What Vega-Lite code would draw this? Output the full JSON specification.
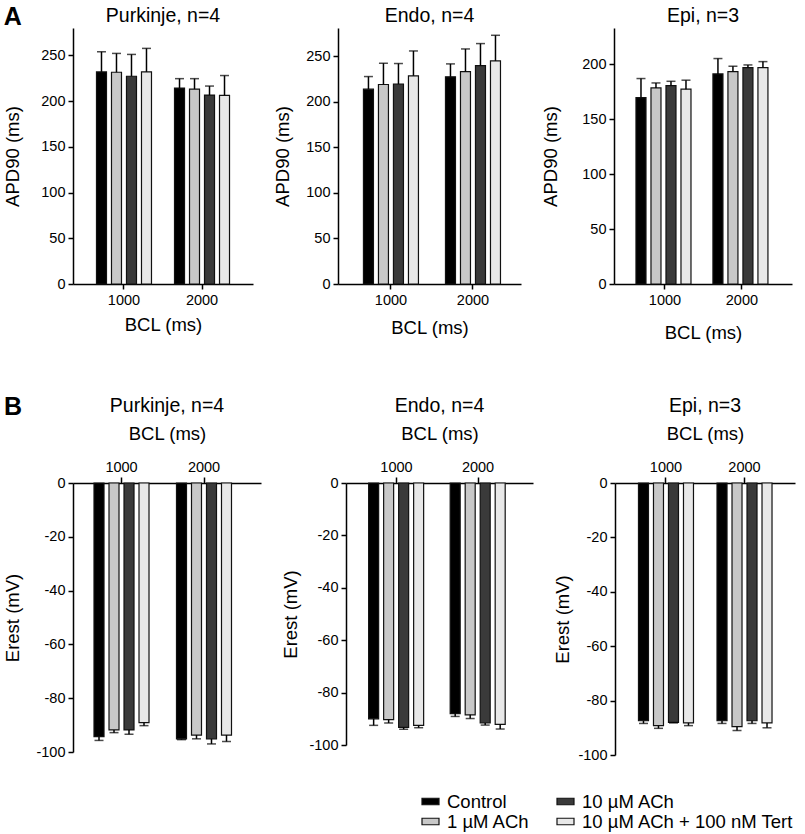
{
  "$schema": "https://vega.github.io/schema/vega-lite/v6.json",
  "background": "white",
  "padding": {"left": 3, "top": 4, "right": 5, "bottom": 5},
  "datasets": {
    "apd": [
      {"panel": "Purkinje", "bcl": "1000", "cond": "Control", "mean": 232, "err": 254},
      {"panel": "Purkinje", "bcl": "1000", "cond": "1 µM ACh", "mean": 231.6, "err": 252.2},
      {"panel": "Purkinje", "bcl": "1000", "cond": "10 µM ACh", "mean": 227.2, "err": 251.1},
      {"panel": "Purkinje", "bcl": "1000", "cond": "10 µM ACh + 100 nM Tert", "mean": 232, "err": 257.7},
      {"panel": "Purkinje", "bcl": "2000", "cond": "Control", "mean": 214.3, "err": 224.6},
      {"panel": "Purkinje", "bcl": "2000", "cond": "1 µM ACh", "mean": 213.2, "err": 224.6},
      {"panel": "Purkinje", "bcl": "2000", "cond": "10 µM ACh", "mean": 206.6, "err": 216.5},
      {"panel": "Purkinje", "bcl": "2000", "cond": "10 µM ACh + 100 nM Tert", "mean": 206.3, "err": 228},
      {"panel": "Endo", "bcl": "1000", "cond": "Control", "mean": 213.9, "err": 227.7},
      {"panel": "Endo", "bcl": "1000", "cond": "1 µM ACh", "mean": 219, "err": 242.3},
      {"panel": "Endo", "bcl": "1000", "cond": "10 µM ACh", "mean": 219.3, "err": 242},
      {"panel": "Endo", "bcl": "1000", "cond": "10 µM ACh + 100 nM Tert", "mean": 228.5, "err": 255.8},
      {"panel": "Endo", "bcl": "2000", "cond": "Control", "mean": 227.4, "err": 241.6},
      {"panel": "Endo", "bcl": "2000", "cond": "1 µM ACh", "mean": 233.2, "err": 258},
      {"panel": "Endo", "bcl": "2000", "cond": "10 µM ACh", "mean": 239.8, "err": 263.9},
      {"panel": "Endo", "bcl": "2000", "cond": "10 µM ACh + 100 nM Tert", "mean": 244.9, "err": 273},
      {"panel": "Epi", "bcl": "1000", "cond": "Control", "mean": 169.7, "err": 187},
      {"panel": "Epi", "bcl": "1000", "cond": "1 µM ACh", "mean": 178.5, "err": 183},
      {"panel": "Epi", "bcl": "1000", "cond": "10 µM ACh", "mean": 180.6, "err": 184.5},
      {"panel": "Epi", "bcl": "1000", "cond": "10 µM ACh + 100 nM Tert", "mean": 177.3, "err": 185.5},
      {"panel": "Epi", "bcl": "2000", "cond": "Control", "mean": 191.2, "err": 205.2},
      {"panel": "Epi", "bcl": "2000", "cond": "1 µM ACh", "mean": 193.3, "err": 198.2},
      {"panel": "Epi", "bcl": "2000", "cond": "10 µM ACh", "mean": 197, "err": 199.4},
      {"panel": "Epi", "bcl": "2000", "cond": "10 µM ACh + 100 nM Tert", "mean": 197, "err": 202.4}
    ],
    "erest": [
      {"panel": "Purkinje", "bcl": "1000", "cond": "Control", "mean": -94.3, "err": -95.7},
      {"panel": "Purkinje", "bcl": "1000", "cond": "1 µM ACh", "mean": -91.8, "err": -92.8},
      {"panel": "Purkinje", "bcl": "1000", "cond": "10 µM ACh", "mean": -91.8, "err": -93.4},
      {"panel": "Purkinje", "bcl": "1000", "cond": "10 µM ACh + 100 nM Tert", "mean": -89.1, "err": -90.2},
      {"panel": "Purkinje", "bcl": "2000", "cond": "Control", "mean": -95.1, "err": -95.4},
      {"panel": "Purkinje", "bcl": "2000", "cond": "1 µM ACh", "mean": -93.7, "err": -95.1},
      {"panel": "Purkinje", "bcl": "2000", "cond": "10 µM ACh", "mean": -95.1, "err": -97},
      {"panel": "Purkinje", "bcl": "2000", "cond": "10 µM ACh + 100 nM Tert", "mean": -93.7, "err": -96.1},
      {"panel": "Endo", "bcl": "1000", "cond": "Control", "mean": -90, "err": -92.5},
      {"panel": "Endo", "bcl": "1000", "cond": "1 µM ACh", "mean": -90.3, "err": -91.6},
      {"panel": "Endo", "bcl": "1000", "cond": "10 µM ACh", "mean": -93.25, "err": -94},
      {"panel": "Endo", "bcl": "1000", "cond": "10 µM ACh + 100 nM Tert", "mean": -92.5, "err": -93.4},
      {"panel": "Endo", "bcl": "2000", "cond": "Control", "mean": -88, "err": -89.1},
      {"panel": "Endo", "bcl": "2000", "cond": "1 µM ACh", "mean": -88.5, "err": -89.9},
      {"panel": "Endo", "bcl": "2000", "cond": "10 µM ACh", "mean": -91.6, "err": -92.4},
      {"panel": "Endo", "bcl": "2000", "cond": "10 µM ACh + 100 nM Tert", "mean": -92.1, "err": -93.9},
      {"panel": "Epi", "bcl": "1000", "cond": "Control", "mean": -87.4, "err": -88.4},
      {"panel": "Epi", "bcl": "1000", "cond": "1 µM ACh", "mean": -89.2, "err": -90.2},
      {"panel": "Epi", "bcl": "1000", "cond": "10 µM ACh", "mean": -88, "err": -88.2},
      {"panel": "Epi", "bcl": "1000", "cond": "10 µM ACh + 100 nM Tert", "mean": -88.2, "err": -89.2},
      {"panel": "Epi", "bcl": "2000", "cond": "Control", "mean": -87.4, "err": -88.4},
      {"panel": "Epi", "bcl": "2000", "cond": "1 µM ACh", "mean": -89.6, "err": -91},
      {"panel": "Epi", "bcl": "2000", "cond": "10 µM ACh", "mean": -87.4, "err": -88.4},
      {"panel": "Epi", "bcl": "2000", "cond": "10 µM ACh + 100 nM Tert", "mean": -88.2, "err": -90}
    ]
  },
  "spacing": 52,
  "vconcat": [
    {
      "title": {"text": "A", "anchor": "start", "fontSize": 25, "fontWeight": "bold", "offset": -24, "frame": "bounds"},
      "spacing": 20,
      "hconcat": [
        {
          "data": {"name": "apd"},
          "transform": [{"filter": "datum.panel === 'Purkinje'"}],
          "title": {"text": "Purkinje, n=4", "offset": 2},
          "width": 180, "height": 256,
          "encoding": {
            "x": {"field": "bcl", "type": "nominal", "scale": {"paddingInner": 0.295, "paddingOuter": 0.301, "align": 0.5}, "axis": {"title": "BCL (ms)", "labelAngle": 0, "labelPadding": 4, "titlePadding": 9}},
            "xOffset": {"field": "cond", "type": "nominal", "sort": ["Control", "1 µM ACh", "10 µM ACh", "10 µM ACh + 100 nM Tert"], "scale": {"paddingInner": 0.333, "paddingOuter": 0}},
            "y": {"field": "mean", "type": "quantitative", "scale": {"domain": [0, 280], "nice": false, "zero": true}, "axis": {"title": "APD90 (ms)", "values": [0, 50, 100, 150, 200, 250], "labelPadding": 3, "titlePadding": 18}}
          },
          "layer": [
            {"mark": {"type": "bar", "stroke": "#111111", "strokeWidth": 1.2},
             "encoding": {"color": {"field": "cond", "type": "nominal", "scale": {"domain": ["Control", "1 µM ACh", "10 µM ACh", "10 µM ACh + 100 nM Tert"], "range": ["#000000", "#c8c8c8", "#3a3a3a", "#e8e8e8"]}, "legend": {"orient": "none", "legendX": 348, "legendY": 764, "columns": 2, "title": null}}}},
            {"mark": {"type": "rule", "color": "black", "strokeWidth": 1.5}, "encoding": {"y2": {"field": "err"}}},
            {"mark": {"type": "tick", "color": "black", "thickness": 1.5, "size": 9}, "encoding": {"y": {"field": "err", "type": "quantitative", "axis": {"title": "APD90 (ms)", "values": [0, 50, 100, 150, 200, 250], "labelPadding": 3, "titlePadding": 18}}}}
          ]
        },
        {
          "data": {"name": "apd"},
          "transform": [{"filter": "datum.panel === 'Endo'"}],
          "title": {"text": "Endo, n=4", "offset": 2},
          "width": 183, "height": 256,
          "encoding": {
            "x": {"field": "bcl", "type": "nominal", "scale": {"paddingInner": 0.329, "paddingOuter": 0.28, "align": 0.554}, "axis": {"title": "BCL (ms)", "labelAngle": 0, "labelPadding": 4, "titlePadding": 12}},
            "xOffset": {"field": "cond", "type": "nominal", "sort": ["Control", "1 µM ACh", "10 µM ACh", "10 µM ACh + 100 nM Tert"], "scale": {"paddingInner": 0.333, "paddingOuter": 0}},
            "y": {"field": "mean", "type": "quantitative", "scale": {"domain": [0, 281], "nice": false, "zero": true}, "axis": {"title": "APD90 (ms)", "values": [0, 50, 100, 150, 200, 250], "labelPadding": 3, "titlePadding": 13}}
          },
          "layer": [
            {"mark": {"type": "bar", "stroke": "#111111", "strokeWidth": 1.2},
             "encoding": {"color": {"field": "cond", "type": "nominal", "scale": {"domain": ["Control", "1 µM ACh", "10 µM ACh", "10 µM ACh + 100 nM Tert"], "range": ["#000000", "#c8c8c8", "#3a3a3a", "#e8e8e8"]}, "legend": {"orient": "none", "legendX": 348, "legendY": 764, "columns": 2, "title": null}}}},
            {"mark": {"type": "rule", "color": "black", "strokeWidth": 1.5}, "encoding": {"y2": {"field": "err"}}},
            {"mark": {"type": "tick", "color": "black", "thickness": 1.5, "size": 9}, "encoding": {"y": {"field": "err", "type": "quantitative", "axis": {"title": "APD90 (ms)", "values": [0, 50, 100, 150, 200, 250], "labelPadding": 3, "titlePadding": 13}}}}
          ]
        },
        {
          "data": {"name": "apd"},
          "transform": [{"filter": "datum.panel === 'Epi'"}],
          "title": {"text": "Epi, n=3", "offset": 2},
          "width": 178, "height": 256,
          "encoding": {
            "x": {"field": "bcl", "type": "nominal", "scale": {"paddingInner": 0.247, "paddingOuter": 0.28, "align": 0.51}, "axis": {"title": "BCL (ms)", "labelAngle": 0, "labelPadding": 4, "titlePadding": 17}},
            "xOffset": {"field": "cond", "type": "nominal", "sort": ["Control", "1 µM ACh", "10 µM ACh", "10 µM ACh + 100 nM Tert"], "scale": {"paddingInner": 0.32, "paddingOuter": 0}},
            "y": {"field": "mean", "type": "quantitative", "scale": {"domain": [0, 233], "nice": false, "zero": true}, "axis": {"title": "APD90 (ms)", "values": [0, 50, 100, 150, 200], "labelPadding": 3, "titlePadding": 21}}
          },
          "layer": [
            {"mark": {"type": "bar", "stroke": "#111111", "strokeWidth": 1.2},
             "encoding": {"color": {"field": "cond", "type": "nominal", "scale": {"domain": ["Control", "1 µM ACh", "10 µM ACh", "10 µM ACh + 100 nM Tert"], "range": ["#000000", "#c8c8c8", "#3a3a3a", "#e8e8e8"]}, "legend": {"orient": "none", "legendX": 348, "legendY": 764, "columns": 2, "title": null}}}},
            {"mark": {"type": "rule", "color": "black", "strokeWidth": 1.5}, "encoding": {"y2": {"field": "err"}}},
            {"mark": {"type": "tick", "color": "black", "thickness": 1.5, "size": 9}, "encoding": {"y": {"field": "err", "type": "quantitative", "axis": {"title": "APD90 (ms)", "values": [0, 50, 100, 150, 200], "labelPadding": 3, "titlePadding": 21}}}}
          ]
        }
      ]
    },
    {
      "title": {"text": "B", "anchor": "start", "fontSize": 25, "fontWeight": "bold", "offset": -24, "frame": "bounds"},
      "spacing": 20,
      "hconcat": [
        {
          "data": {"name": "erest"},
          "transform": [{"filter": "datum.panel === 'Purkinje'"}],
          "title": {"text": "Purkinje, n=4", "offset": 8},
          "width": 188, "height": 269,
          "encoding": {
            "x": {"field": "bcl", "type": "nominal", "scale": {"paddingInner": 0.333, "paddingOuter": 0.306, "align": 0.416}, "axis": {"orient": "top", "title": "BCL (ms)", "labelAngle": 0, "labelPadding": 3, "titlePadding": 16, "tickSize": 6}},
            "xOffset": {"field": "cond", "type": "nominal", "sort": ["Control", "1 µM ACh", "10 µM ACh", "10 µM ACh + 100 nM Tert"], "scale": {"paddingInner": 0.333, "paddingOuter": 0}},
            "y": {"field": "mean", "type": "quantitative", "scale": {"domain": [-100, 0], "nice": false, "zero": true}, "axis": {"title": "Erest (mV)", "values": [-100, -80, -60, -40, -20, 0], "labelExpr": "'' + datum.value", "labelPadding": 3, "titlePadding": 13}}
          },
          "layer": [
            {"mark": {"type": "bar", "stroke": "#111111", "strokeWidth": 1.2},
             "encoding": {"color": {"field": "cond", "type": "nominal", "scale": {"domain": ["Control", "1 µM ACh", "10 µM ACh", "10 µM ACh + 100 nM Tert"], "range": ["#000000", "#c8c8c8", "#3a3a3a", "#e8e8e8"]}, "legend": {"orient": "none", "legendX": 348, "legendY": 764, "columns": 2, "title": null}}}},
            {"mark": {"type": "rule", "color": "black", "strokeWidth": 1.5}, "encoding": {"y2": {"field": "err"}}},
            {"mark": {"type": "tick", "color": "black", "thickness": 1.5, "size": 9}, "encoding": {"y": {"field": "err", "type": "quantitative", "axis": {"title": "Erest (mV)", "values": [-100, -80, -60, -40, -20, 0], "labelExpr": "'' + datum.value", "labelPadding": 3, "titlePadding": 13}}}}
          ]
        },
        {
          "data": {"name": "erest"},
          "transform": [{"filter": "datum.panel === 'Endo'"}],
          "title": {"text": "Endo, n=4", "offset": 8},
          "width": 187, "height": 262,
          "encoding": {
            "x": {"field": "bcl", "type": "nominal", "scale": {"paddingInner": 0.317, "paddingOuter": 0.305, "align": 0.455}, "axis": {"orient": "top", "title": "BCL (ms)", "labelAngle": 0, "labelPadding": 3, "titlePadding": 16, "tickSize": 6}},
            "xOffset": {"field": "cond", "type": "nominal", "sort": ["Control", "1 µM ACh", "10 µM ACh", "10 µM ACh + 100 nM Tert"], "scale": {"paddingInner": 0.333, "paddingOuter": 0}},
            "y": {"field": "mean", "type": "quantitative", "scale": {"domain": [-100, 0], "nice": false, "zero": true}, "axis": {"title": "Erest (mV)", "values": [-100, -80, -60, -40, -20, 0], "labelExpr": "'' + datum.value", "labelPadding": 3, "titlePadding": 8}}
          },
          "layer": [
            {"mark": {"type": "bar", "stroke": "#111111", "strokeWidth": 1.2},
             "encoding": {"color": {"field": "cond", "type": "nominal", "scale": {"domain": ["Control", "1 µM ACh", "10 µM ACh", "10 µM ACh + 100 nM Tert"], "range": ["#000000", "#c8c8c8", "#3a3a3a", "#e8e8e8"]}, "legend": {"orient": "none", "legendX": 348, "legendY": 764, "columns": 2, "title": null}}}},
            {"mark": {"type": "rule", "color": "black", "strokeWidth": 1.5}, "encoding": {"y2": {"field": "err"}}},
            {"mark": {"type": "tick", "color": "black", "thickness": 1.5, "size": 9}, "encoding": {"y": {"field": "err", "type": "quantitative", "axis": {"title": "Erest (mV)", "values": [-100, -80, -60, -40, -20, 0], "labelExpr": "'' + datum.value", "labelPadding": 3, "titlePadding": 8}}}}
          ]
        },
        {
          "data": {"name": "erest"},
          "transform": [{"filter": "datum.panel === 'Epi'"}],
          "title": {"text": "Epi, n=3", "offset": 8},
          "width": 180, "height": 272,
          "encoding": {
            "x": {"field": "bcl", "type": "nominal", "scale": {"paddingInner": 0.3, "paddingOuter": 0.296, "align": 0.505}, "axis": {"orient": "top", "title": "BCL (ms)", "labelAngle": 0, "labelPadding": 3, "titlePadding": 16, "tickSize": 6}},
            "xOffset": {"field": "cond", "type": "nominal", "sort": ["Control", "1 µM ACh", "10 µM ACh", "10 µM ACh + 100 nM Tert"], "scale": {"paddingInner": 0.333, "paddingOuter": 0}},
            "y": {"field": "mean", "type": "quantitative", "scale": {"domain": [-100, 0], "nice": false, "zero": true}, "axis": {"title": "Erest (mV)", "values": [-100, -80, -60, -40, -20, 0], "labelExpr": "'' + datum.value", "labelPadding": 3, "titlePadding": 5}}
          },
          "layer": [
            {"mark": {"type": "bar", "stroke": "#111111", "strokeWidth": 1.2},
             "encoding": {"color": {"field": "cond", "type": "nominal", "scale": {"domain": ["Control", "1 µM ACh", "10 µM ACh", "10 µM ACh + 100 nM Tert"], "range": ["#000000", "#c8c8c8", "#3a3a3a", "#e8e8e8"]}, "legend": {"orient": "none", "legendX": 348, "legendY": 764, "columns": 2, "title": null}}}},
            {"mark": {"type": "rule", "color": "black", "strokeWidth": 1.5}, "encoding": {"y2": {"field": "err"}}},
            {"mark": {"type": "tick", "color": "black", "thickness": 1.5, "size": 9}, "encoding": {"y": {"field": "err", "type": "quantitative", "axis": {"title": "Erest (mV)", "values": [-100, -80, -60, -40, -20, 0], "labelExpr": "'' + datum.value", "labelPadding": 3, "titlePadding": 5}}}}
          ]
        }
      ]
    }
  ],
  "config": {
    "font": "Liberation Sans",
    "view": {"stroke": null},
    "axis": {"grid": false, "domainColor": "black", "domainWidth": 1.5, "tickColor": "black", "tickWidth": 1.5, "tickSize": 5, "labelFontSize": 14.5, "labelColor": "black", "labelFont": "Liberation Sans", "titleFont": "Liberation Sans", "titleFontSize": 18.5, "titleFontWeight": "normal", "titleColor": "black"},
    "title": {"font": "Liberation Sans", "fontSize": 19.5, "fontWeight": "normal", "color": "black"},
    "legend": {"labelFont": "Liberation Sans", "labelFontSize": 18.5, "labelColor": "black", "labelLimit": 400, "labelOffset": 7, "symbolType": "M-1,-0.38H1V0.38H-1Z", "symbolSize": 289, "symbolStrokeColor": "#111111", "symbolStrokeWidth": 1.2, "rowPadding": 1, "columnPadding": 24, "padding": 0}
  }
}
